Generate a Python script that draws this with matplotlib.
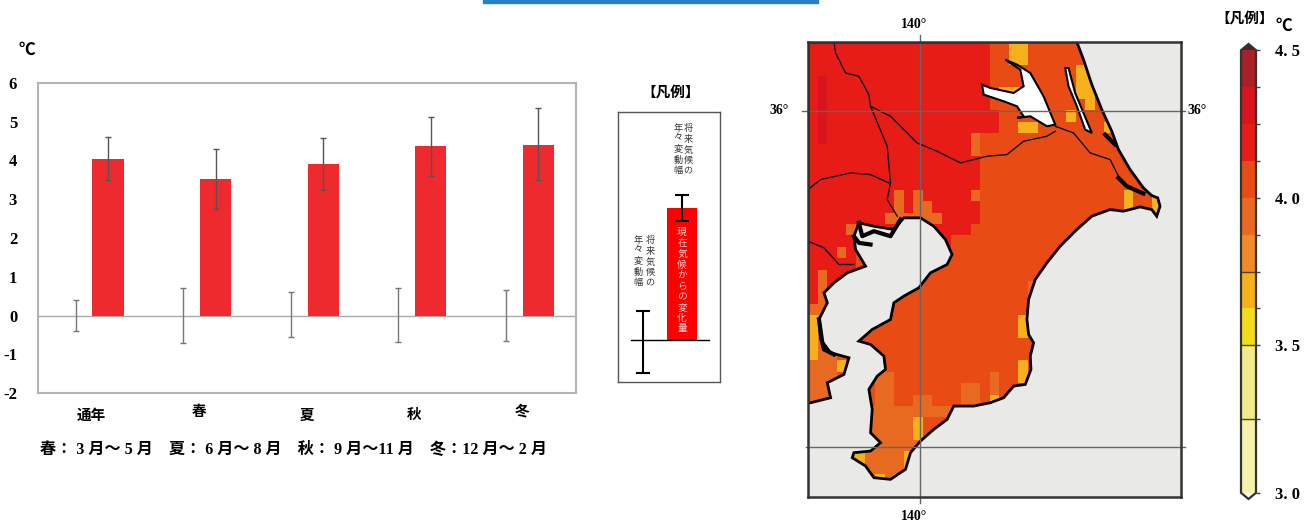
import matplotlib
matplotlib.use('Agg')
import matplotlib.pyplot as plt
from matplotlib.colors import BoundaryNorm, ListedColormap
from matplotlib.patches import Polygon, Rectangle
import numpy as np

plt.rcParams['font.family'] = ['Liberation Serif', 'Noto Sans CJK JP', 'DejaVu Sans']
plt.rcParams['font.weight'] = 'bold'

# Bar chart data ###############################################
categories = ['通年', '春', '夏', '秋', '冬']
change = [4.05, 3.52, 3.90, 4.37, 4.40]
future_low = [3.50, 2.75, 3.25, 3.60, 3.50]
future_high = [4.60, 4.30, 4.57, 5.12, 5.35]
present_low = [-0.40, -0.70, -0.56, -0.68, -0.65]
present_high = [0.40, 0.72, 0.60, 0.70, 0.65]
y_ticks = [-2, -1, 0, 1, 2, 3, 4, 5, 6]
season_note = '春： 3 月～ 5 月　夏： 6 月～ 8 月　秋： 9 月～11 月　冬：12 月～ 2 月'

# Legend sketch values, in units above the baseline
legend_bar = 132
legend_future = [119, 145]
legend_present = [-33, 29]

# Colour scale #################################################
levels = [3.0, 3.25, 3.5, 3.625, 3.75, 3.875, 4.0, 4.125, 4.25, 4.375, 4.5]
level_colors = ['#f6f2aa', '#f3ea8c', '#f2dc1c', '#f5b01c', '#ee8a28',
                '#e86a20', '#e84c14', '#e81c16', '#d8141c', '#a82028']
level_labels = ['3. 0', '', '3. 5', '', '', '', '4. 0', '', '', '', '4. 5']

# Map data #####################################################
# Traced map grid units: 140E is at 390, 36N at 303, 35N at 1312
lon_140 = 390
lat_36 = 303
lat_35 = 1312
map_x = (52, 1173)
map_y = (1463, 97)

cell_values = {'A': 3.7, 'Y': 3.65, 'M': 3.95, 'O': 4.06, 'R': 4.2, 'D': 4.3}
# One letter per cell, rows from the north; short rows go on with O
cells = [
    'RRRRRRRRRRRRRRRRRRROOAA',
    'RRRRRRRRRRRRRRRRRRROOAA',
    'RRRRRRRRRRRRRRRRRRROOOOOOOOOAA',
    'RDRRRRRRRRRRRRRRRRROOOOOOOOOAA',
    'RDRRRRRRRRRRRRRRRRROAAAOOOOOAA',
    'RDRRRRRRRRRRRRRRRRROOOOOOOOOOA',
    'RDRRRRRRRRRRRRRRRRRROOOOOOOA',
    'RDRRRRRRRRRRRRRRRRRROOAAOOOOOOOA',
    'RDRRRRRRRRRRRRRRRM',
    'RRRRRRRRRRRRRRRRRM',
    'RRRRRRRRRRRRRRRRRR',
    'RRRRRRRRRRRRRRRRRR',
    'RRRRRRRRRRRRRRRRRR',
    'RRRRRRRRRMRMRRRRRMOOOOOOOOOOOOOOOAOOA',
    'RRRRRRRRRMRMMRRRRROOOOOOOOOOOOOOOAOOA',
    'RRRRRRRRMMMMMMRRRR',
    'RRRRMRRRRRRRRRRRR',
    'RRRRRRRRRRRRRRR',
    'RRRMR',
    'RRRRR',
    'RMRRR',
    'RMRROOOOOOOOOOOOOOOOOOOM',
    'RMMOOOOOOOOOOOOOOOOOOOOM',
    'MMM',
    'AMMOOOOOOOOOOOOOOOOOOOA',
    'AMMOOOOOOOOOOOOOOOOOOOA',
    'AMM',
    'AMM',
    'MMMAOOOOOOOOOOOOOOOOOOY',
    'MMMOOOOMMOOOOOOOOOOMOOY',
    'MMMOOOOMMOOOOOOOMMOMO',
    'MMMOOOOMMOOMMOOOMMOA',
    'MMMMMMMMMMMMMMMM',
    'MMMMMMMMMMMY',
    'MMMMMMMMMMMY',
    'MMMMMMMMMMMM',
    'MMMMAAMMMMA',
    'MMMMMMMMMMA',
    'MMMMMMMAMAA',
    'MMMMMMMMMMM',
]

coast_x = [860, 880, 905, 935, 965, 985, 1020, 1060, 1085, 1103, 1110, 1100,
           1085, 1050, 1000, 960, 905, 860, 810, 770, 735, 715, 710, 715, 730,
           720, 722, 705, 670, 640, 600, 550, 490, 470, 430, 390, 360, 345,
           300, 250, 225, 185, 190, 240, 270, 240, 245, 235, 260, 285, 280,
           240, 205, 245, 300, 310, 340, 385, 420, 470, 485, 465, 430, 390,
           340, 310, 250, 205, 190, 195, 225, 170, 130, 100, 110, 85, 90, 120,
           175, 160, 110, 120, 60, 52, 52]
coast_y = [97, 150, 225, 300, 365, 420, 480, 535, 558, 565, 590, 620,
           600, 592, 605, 600, 620, 660, 710, 760, 810, 870, 930, 975, 1000,
           1040, 1080, 1125, 1130, 1165, 1180, 1190, 1190, 1230, 1260, 1295,
           1330, 1380, 1410, 1405, 1370, 1345, 1330, 1325, 1300, 1270, 1200,
           1140, 1100, 1080, 1040, 1005, 995, 960, 930, 880, 860, 835, 790,
           765, 735, 690, 650, 625, 625, 660, 650, 640, 680, 720, 770, 790,
           820, 850, 880, 930, 990, 1030, 1045, 1095, 1120, 1165, 1180, 1180, 97]

lake1_x = [645, 690, 700, 670, 600, 575, 580, 640, 680, 700, 680, 720, 770,
           795, 760, 720, 680]
lake1_y = [150, 180, 230, 250, 235, 225, 255, 275, 290, 320, 325, 320, 350,
           345, 260, 190, 165]
lake2_x = [825, 835, 860, 885, 905, 880, 855, 835]
lake2_y = [175, 230, 290, 360, 370, 310, 250, 175]

# Prefecture borders
borders = [
    ([795, 770, 700, 650, 590, 510, 440, 380, 300, 240, 235, 205, 165, 135, 130],
     [365, 380, 395, 435, 440, 460, 425, 400, 320, 290, 255, 200, 190, 130, 97]),
    ([240, 290, 300, 290, 320], [290, 410, 520, 570, 620]),
    ([52, 90, 180, 240, 295], [540, 510, 490, 495, 520]),
    ([52, 100, 145, 190], [695, 715, 765, 765]),
    ([795, 850, 900, 960, 985], [350, 370, 430, 450, 500]),
]
# Heavy clutter of coast lines around the ports
heavy_lines = [
    ([205, 215, 250, 300, 330], [640, 680, 665, 680, 630]),
    ([190, 205, 240], [680, 700, 705]),
    ([985, 1010, 1060], [505, 530, 552]),
    ([945, 975], [375, 405]),
    ([85, 95, 100, 130], [930, 1000, 1020, 1035]),
]

W, H = 1311, 525


def px_axes(left, top, right, bottom):
    # Axes rectangle from pixel edges of the picture
    return fig.add_axes([left/W, 1-bottom/H, (right-left)/W, (bottom-top)/H])


fig = plt.figure(figsize=(W/100, H/100), dpi=100)
# Blue brush stroke cut off at the top edge
fig.patches.append(Rectangle((483/W, 1-3/H), 335/W, 3/H, color='#2a80c0',
                             transform=fig.transFigure))

# Bar chart ####################################################
ax = px_axes(38, 83, 576, 393)
pos = np.arange(len(categories))
ax.bar(pos+0.15, change, 0.29, color='#ee2a2e', zorder=2)
ch = np.array(change)
ax.errorbar(pos+0.15, ch,
            yerr=[ch-np.array(future_low), np.array(future_high)-ch],
            fmt='none', ecolor='#555555', elinewidth=1, capsize=2, zorder=3)
ax.errorbar(pos-0.15, np.zeros(len(pos)),
            yerr=[-np.array(present_low), np.array(present_high)],
            fmt='none', ecolor='#777777', elinewidth=1, capsize=2, zorder=3)
ax.axhline(0, color='#aaaaaa', lw=1, zorder=1)
ax.set_xlim(-0.5, 4.5)
ax.set_ylim(-2, 6)
ax.set_yticks(y_ticks)
ax.set_yticklabels([str(v) for v in y_ticks], fontsize=12)
ax.tick_params(axis='y', length=0, pad=15)
ax.set_xticks([])
for s in ax.spines.values():
    s.set_color('#b4b4b4')
    s.set_linewidth(1.5)
for i, c in enumerate(categories):
    ax.text(i, -0.061 if c in ('春', '冬') else -0.074, c, ha='center',
            va='center', fontsize=10.5, transform=ax.get_xaxis_transform())
fig.text(27/W, 1-51/H, '℃', ha='center', va='center', fontsize=12)
fig.text(293/W, 1-450/H, season_note, ha='center', va='center', fontsize=11.6)

# Legend sketch ################################################
leg = px_axes(618, 112, 720, 382)
leg.set_xlim(0, 102)
leg.set_ylim(-42, 228)
leg.bar(64, legend_bar, 30, color='#ff0000', align='center', zorder=1)
leg.plot([13, 91], [0, 0], color='k', lw=1, zorder=2)
leg.errorbar(64, legend_bar, yerr=[[legend_bar-legend_future[0]],
                                   [legend_future[1]-legend_bar]],
             fmt='none', ecolor='k', elinewidth=1.5, capsize=5, capthick=1.5)
leg.errorbar(25, 0, yerr=[[-legend_present[0]], [legend_present[1]]],
             fmt='none', ecolor='k', elinewidth=1.5, capsize=5, capthick=1.5)
leg.set_xticks([])
leg.set_yticks([])
for s in leg.spines.values():
    s.set_color('#555555')
    s.set_linewidth(1)
note_font = dict(ha='center', va='top', fontsize=6.6, fontweight='normal',
                 linespacing=1.28, color='#333333')
leg.text(70, 216, '\n'.join('将来気候の'), **note_font)
leg.text(60, 216, '\n'.join('年々変動幅'), **note_font)
leg.text(32, 104, '\n'.join('将来気候の'), **note_font)
leg.text(20, 104, '\n'.join('年々変動幅'), **note_font)
leg.text(64, 112, '\n'.join('現在気候からの変化量'), ha='center', va='top',
         fontsize=7, fontweight='normal', linespacing=1.22, color='#ffd0d0')
fig.text(671/W, 1-93/H, '【凡例】', ha='center', va='center', fontsize=10.5)

# Map ##########################################################
cmap = ListedColormap(level_colors)
cmap.set_over('#5a1a20')
cmap.set_under('#ffffff')
norm = BoundaryNorm(levels, cmap.N)

mp = px_axes(808, 42, 1181, 497)
mp.set_facecolor('#e9e9e7')
grid = np.full((len(cells), 39), cell_values['O'])
for r, row in enumerate(cells):
    for c, letter in enumerate(row):
        grid[r, c] = cell_values[letter]
x_edges = np.linspace(map_x[0], map_x[1], 40)
y_edges = np.linspace(map_y[1], map_y[0], len(cells)+1)
mesh = mp.pcolormesh(x_edges, y_edges, grid, cmap=cmap, norm=norm, zorder=1)
land = Polygon(np.column_stack([coast_x, coast_y]), closed=True, fc='none',
               ec='none', transform=mp.transData)
mp.add_patch(land)
mesh.set_clip_path(land)
mp.add_patch(Polygon(np.column_stack([coast_x, coast_y]), closed=True,
                     fc='none', ec='k', lw=2, zorder=3))
mp.fill(lake1_x, lake1_y, fc='white', ec='k', lw=1.5, zorder=3)
mp.fill(lake2_x, lake2_y, fc='white', ec='k', lw=1.5, zorder=3)
for bx, by in borders:
    mp.plot(bx, by, color='#111111', lw=1, zorder=3)
for bx, by in heavy_lines:
    mp.plot(bx, by, color='k', lw=3, zorder=3)
mp.set_xlim(map_x)
mp.set_ylim(map_y)
mp.set_xticks([])
mp.set_yticks([])
for s in mp.spines.values():
    s.set_color('#333333')
    s.set_linewidth(1.8)
    s.set_zorder(5)

# Graticule runs a little past the frame
mp.plot([lon_140, lon_140], [75, 1480], color='#666666', lw=1, zorder=4,
        clip_on=False)
mp.plot([33, 1185], [lat_36, lat_36], color='#666666', lw=1, zorder=4,
        clip_on=False)
mp.plot([47, 1185], [lat_35, lat_35], color='#666666', lw=1, zorder=4,
        clip_on=False)
deg_font = dict(ha='center', va='center', fontsize=10)
fig.text(914/W, 1-25/H, '140°', **deg_font)
fig.text(914/W, 1-517/H, '140°', **deg_font)
fig.text(779/W, 1-110/H, '36°', **deg_font)
fig.text(1197/W, 1-110/H, '36°', **deg_font)

# Colour bar ###################################################
cax = px_axes(1241, 44, 1256, 499)
cbar = fig.colorbar(mesh, cax=cax, extend='both', extendfrac=0.014,
                    spacing='proportional')
cbar.set_ticks(levels, labels=level_labels)
cbar.minorticks_off()
cbar.ax.tick_params(length=3, width=1, color='#444444', labelsize=12, pad=11)
cbar.outline.set_edgecolor('#333333')
cbar.outline.set_linewidth(1.6)
for v in [3.25, 3.5, 3.75]:
    cax.axhline(v, color='#554400', lw=1)
fig.text(1245/W, 1-19/H, '【凡例】', ha='center', va='center', fontsize=10.5)
fig.text(1284/W, 1-27/H, '℃', ha='center', va='center', fontsize=12)

fig.savefig('out.png', dpi=100)
